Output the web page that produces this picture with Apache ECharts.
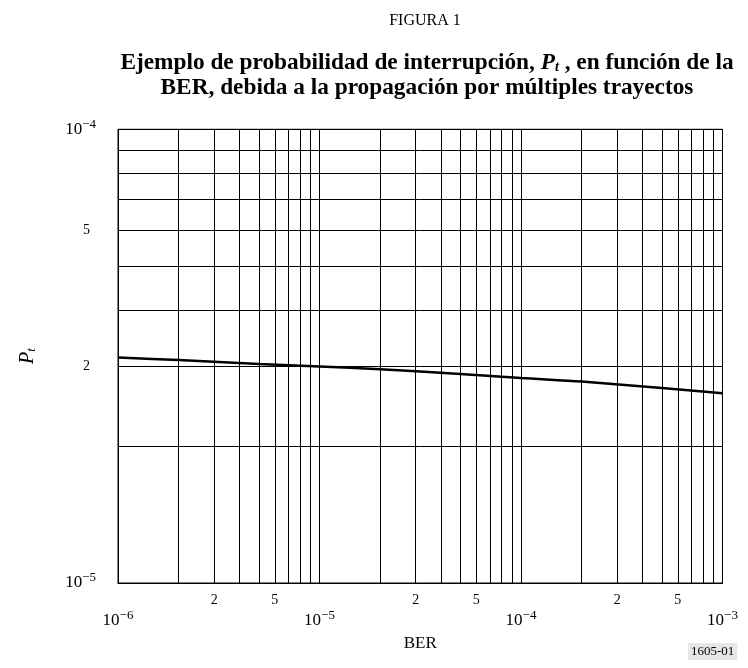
<!DOCTYPE html>
<html><head><meta charset="utf-8">
<script src="https://cdn.jsdelivr.net/npm/echarts@6/dist/echarts.min.js"></script>
<style>html,body{margin:0;padding:0;background:#fff}#c{width:748px;height:668px}</style>
</head><body><div id="c"></div>
<script>
// ---- data ----
const berValues = [1e-6, 2e-6, 5e-6, 1e-5, 2e-5, 5e-5, 1e-4, 2e-4, 5e-4, 1e-3];
const ptValues  = [3.14e-5, 3.10e-5, 3.04e-5, 3.00e-5, 2.96e-5, 2.89e-5, 2.83e-5, 2.78e-5, 2.69e-5, 2.62e-5];
const xDecadeTicks = [1e-6, 1e-5, 1e-4, 1e-3];
const yDecadeTicks = [1e-5, 1e-4];
const mantissas = [1, 2, 3, 4, 5, 6, 7, 8, 9];
// minor labels as positioned in the reference figure: value -> label text
const xMinorLabelPos = [3e-6, 6e-6, 3e-5, 6e-5, 3e-4, 6e-4];
const xMinorLabelText = ['2', '5', '2', '5', '2', '5'];
const yMinorLabelPos = [3e-5, 6e-5];
const yMinorLabelText = ['2', '5'];

function gridValues(decades, lastVal) {
  const out = [];
  decades.forEach(d => { if (d < lastVal) mantissas.forEach(m => out.push(m * d)); });
  out.push(lastVal);
  return out;
}
const xGrid = gridValues(xDecadeTicks, 1e-3);
const yGrid = gridValues(yDecadeTicks, 1e-4);

const FONT = '"Liberation Serif", "Times New Roman", serif';
const supRich = {
  b: { fontFamily: FONT, fontSize: 17, color: '#000' },
  s: { fontFamily: FONT, fontSize: 13, color: '#000', padding: [0, 0, 10, 0] }
};
function decadeLabel(v) {
  const e = Math.round(Math.log10(v));
  return '{b|10}{s|\u2212' + Math.abs(e) + '}';
}
function minorLabel(pos, txt) {
  return v => {
    for (let i = 0; i < pos.length; i++) if (Math.abs(v / pos[i] - 1) < 1e-6) return txt[i];
    return '';
  };
}

const chart = echarts.init(document.getElementById('c'), null, { renderer: 'canvas' });
const gridLine = { show: true, lineStyle: { color: '#000', width: 1 } };
chart.setOption({
  animation: false,
  backgroundColor: '#fff',
  grid: { left: 118, right: 25.5, top: 129.3, bottom: 85, show: true, borderColor: '#000', borderWidth: 1, containLabel: false },
  title: [
    { text: 'FIGURA 1', left: 420, top: 8, textAlign: 'center',
      textStyle: { fontFamily: FONT, fontSize: 16, fontWeight: 'normal', color: '#000' } },
    { text: 'Ejemplo de probabilidad de interrupción, {i|P}{sub|t} , en función de la\nBER, debida a la propagación por múltiples trayectos',
      left: 422, top: 45, textAlign: 'center',
      textStyle: { fontFamily: FONT, fontSize: 23.3, fontWeight: 'bold', color: '#000', lineHeight: 25,
        rich: {
          i: { fontFamily: FONT, fontSize: 23.3, fontWeight: 'bold', fontStyle: 'italic', color: '#000' },
          sub: { fontFamily: FONT, fontSize: 14, fontWeight: 'bold', fontStyle: 'italic', color: '#000', padding: [9, 0, 0, 0] }
        } } }
  ],
  xAxis: [
    { type: 'log', logBase: 10, min: 1e-6, max: 1e-3, gridIndex: 0,
      name: 'BER', nameLocation: 'middle', nameGap: 52,
      nameTextStyle: { fontFamily: FONT, fontSize: 17, color: '#000' },
      axisLine: { show: true, lineStyle: { color: '#000', width: 1 } },
      axisTick: { show: false, customValues: xGrid },
      splitLine: gridLine, minorSplitLine: { show: false },
      axisLabel: { customValues: xDecadeTicks, formatter: decadeLabel, margin: 26, rich: supRich, color: '#000' } },
    { type: 'log', logBase: 10, min: 1e-6, max: 1e-3, gridIndex: 0, position: 'bottom',
      axisLine: { show: false }, axisTick: { show: false, customValues: xMinorLabelPos }, splitLine: { show: false },
      axisLabel: { customValues: xMinorLabelPos, formatter: minorLabel(xMinorLabelPos, xMinorLabelText), margin: 10,
        fontFamily: FONT, fontSize: 14, color: '#000' } }
  ],
  yAxis: [
    { type: 'log', logBase: 10, min: 1e-5, max: 1e-4, gridIndex: 0,
      name: '{i|P}{sub|t}', nameLocation: 'middle', nameGap: 80, nameRotate: 90,
      nameTextStyle: { rich: {
        i: { fontFamily: FONT, fontSize: 20, fontStyle: 'italic', color: '#000' },
        sub: { fontFamily: FONT, fontSize: 13, fontStyle: 'italic', color: '#000', padding: [8, 0, 0, 0] } } },
      axisLine: { show: true, lineStyle: { color: '#000', width: 1 } },
      axisTick: { show: false, customValues: yGrid },
      splitLine: gridLine,
      axisLabel: { customValues: yDecadeTicks, formatter: decadeLabel, margin: 22, rich: supRich, color: '#000' } },
    { type: 'log', logBase: 10, min: 1e-5, max: 1e-4, gridIndex: 0, position: 'left',
      axisLine: { show: false }, axisTick: { show: false, customValues: yMinorLabelPos }, splitLine: { show: false },
      axisLabel: { customValues: yMinorLabelPos, formatter: minorLabel(yMinorLabelPos, yMinorLabelText), margin: 28,
        fontFamily: FONT, fontSize: 14, color: '#000' } }
  ],
  graphic: [
    { type: 'text', left: 688, top: 643, z: 10,
      style: { text: '1605-01', fontFamily: FONT, fontSize: 13, fill: '#000',
        backgroundColor: '#e6e6e6', padding: [2, 3, 2, 3] } }
  ],
  series: [
    { type: 'line', xAxisIndex: 0, yAxisIndex: 0, showSymbol: false, smooth: 0.3,
      data: berValues.map((b, i) => [b, ptValues[i]]),
      lineStyle: { color: '#000', width: 2.5 }, z: 5 }
  ]
});
</script></body></html>
